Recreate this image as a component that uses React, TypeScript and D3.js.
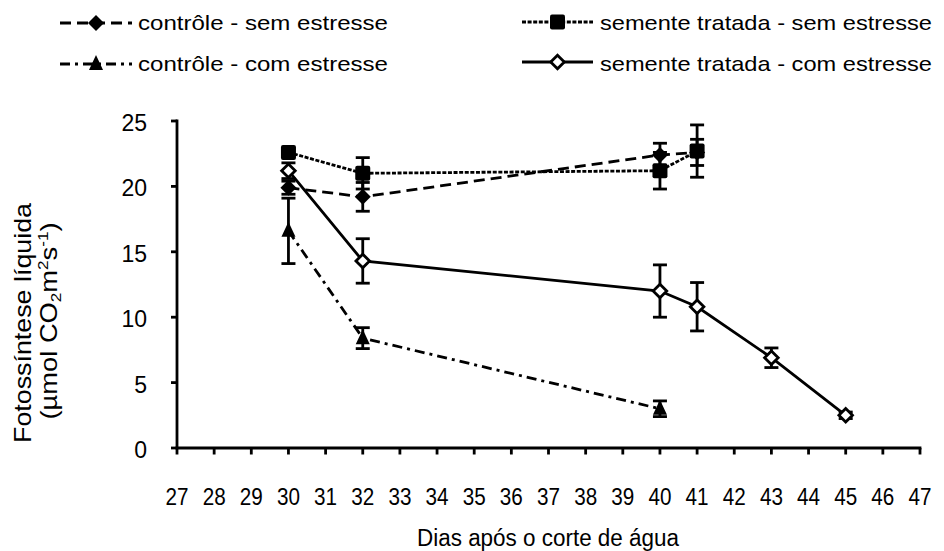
import React from "react";
import * as d3 from "d3";

// Days after water cut-off for each series
const daysSem = [30, 32, 40, 41];
const daysCtrlCom = [30, 32, 40];
const daysTratCom = [30, 32, 40, 41, 43, 45];

// Net photosynthesis (µmol CO2 m-2 s-1) and error bars
const ctrlSem = [19.9, 19.2, 22.4, 22.6];
const ctrlSemErr = [0.5, 1.1, 0.9, 1.0];
const tratSem = [22.6, 21.0, 21.2, 22.7];
const tratSemErr = [0.3, 1.2, 1.4, 2.0];
const ctrlCom = [16.6, 8.4, 3.0];
const ctrlComErr = [2.5, 0.8, 0.6];
const tratCom = [21.2, 14.3, 12.0, 10.8, 6.9, 2.5];
const tratComErr = [0.6, 1.7, 2.0, 1.85, 0.75, 0.25];

const xTicks = d3.range(27, 48);
const yTicks = [0, 5, 10, 15, 20, 25];

const seriesLabels = [
  "contrôle - sem estresse",
  "semente tratada - sem estresse",
  "contrôle - com estresse",
  "semente tratada - com estresse",
];

const FONT = "'Liberation Sans', Arial, sans-serif";

type Marker = "diamond" | "square" | "triangle" | "openDiamond";

interface Series {
  label: string;
  days: number[];
  values: number[];
  err: number[];
  dash: string | undefined;
  marker: Marker;
}

const series: Series[] = [
  { label: seriesLabels[0], days: daysSem, values: ctrlSem, err: ctrlSemErr, dash: "11 6", marker: "diamond" },
  { label: seriesLabels[1], days: daysSem, values: tratSem, err: tratSemErr, dash: "4 1.6", marker: "square" },
  { label: seriesLabels[2], days: daysCtrlCom, values: ctrlCom, err: ctrlComErr, dash: "10 5 3 5", marker: "triangle" },
  { label: seriesLabels[3], days: daysTratCom, values: tratCom, err: tratComErr, dash: undefined, marker: "openDiamond" },
];

const SW = 2.8;

function MarkerShape({ type, cx, cy }: { type: Marker; cx: number; cy: number }) {
  if (type === "diamond") {
    const r = 8;
    return <path d={`M${cx},${cy - r}L${cx + r},${cy}L${cx},${cy + r}L${cx - r},${cy}Z`} fill="#000" />;
  }
  if (type === "openDiamond") {
    const r = 6.8;
    return (
      <path
        d={`M${cx},${cy - r}L${cx + r},${cy}L${cx},${cy + r}L${cx - r},${cy}Z`}
        fill="#fff"
        stroke="#000"
        strokeWidth={2.8}
      />
    );
  }
  if (type === "square") {
    const s = 15;
    return <rect x={cx - s / 2} y={cy - s / 2} width={s} height={s} rx={2} fill="#000" />;
  }
  const h = 15;
  const w = 14;
  return <path d={`M${cx},${cy - h * 0.6}L${cx + w / 2},${cy + h * 0.4}L${cx - w / 2},${cy + h * 0.4}Z`} fill="#000" />;
}

export default function App() {
  const width = 944;
  const height = 551;
  const x = d3.scaleLinear().domain([27, 47]).range([177, 920]);
  const y = d3.scaleLinear().domain([0, 25]).range([448, 121]);
  const line = d3
    .line<[number, number]>()
    .x((d) => x(d[0]))
    .y((d) => y(d[1]));

  const legendPos = [
    { x0: 60, x1: 132, ly: 23, tx: 138, tb: 30, tl: 250 },
    { x0: 522, x1: 593, ly: 22, tx: 600, tb: 30, tl: 332 },
    { x0: 60, x1: 132, ly: 64, tx: 138, tb: 71, tl: 250 },
    { x0: 522, x1: 593, ly: 62, tx: 600, tb: 71, tl: 332 },
  ];

  return (
    <svg
      width={width}
      height={height}
      style={{ position: "absolute", left: 0, top: 0, background: "#fff" }}
      fontFamily={FONT}
    >
      <rect width={width} height={height} fill="#fff" />

      {/* legend */}
      {series.map((s, i) => {
        const p = legendPos[i];
        return (
          <g key={s.label}>
            <line x1={p.x0} x2={p.x1} y1={p.ly} y2={p.ly} stroke="#000" strokeWidth={3.2} strokeDasharray={s.dash} />
            <MarkerShape type={s.marker} cx={(p.x0 + p.x1) / 2} cy={p.ly} />
            <text x={p.tx} y={p.tb} fontSize={21} textLength={p.tl} lengthAdjust="spacingAndGlyphs" fill="#000">
              {s.label}
            </text>
          </g>
        );
      })}

      {/* y axis */}
      <line x1={x(27)} x2={x(27)} y1={y(25) - 1.4} y2={y(0)} stroke="#000" strokeWidth={SW} />
      {yTicks.map((t) => (
        <g key={t}>
          <line x1={x(27) - 6} x2={x(27)} y1={y(t)} y2={y(t)} stroke="#000" strokeWidth={SW} />
          <text x={147} y={y(t) + 10} fontSize={23} textAnchor="end" fill="#000">
            {t}
          </text>
        </g>
      ))}

      {/* x axis */}
      <line x1={x(27) - 1.4} x2={x(47) + 1.4} y1={y(0)} y2={y(0)} stroke="#000" strokeWidth={SW} />
      {xTicks.map((t) => (
        <g key={t}>
          <line x1={x(t)} x2={x(t)} y1={y(0)} y2={y(0) + 6.5} stroke="#000" strokeWidth={SW} />
          <text x={x(t)} y={505} fontSize={23} textAnchor="middle" fill="#000" textLength={23} lengthAdjust="spacingAndGlyphs">
            {t}
          </text>
        </g>
      ))}

      {/* axis titles */}
      <text x={548} y={546} fontSize={23} textAnchor="middle" textLength={262} lengthAdjust="spacingAndGlyphs" fill="#000">
        Dias após o corte de água
      </text>
      <g transform="translate(31,323) rotate(-90)">
        <text x={0} y={0} fontSize={24} textAnchor="middle" textLength={240} lengthAdjust="spacingAndGlyphs" fill="#000">
          Fotossíntese líquida
        </text>
      </g>
      <g transform="translate(57,321) rotate(-90)">
        <text
          x={0}
          y={0}
          fontSize={24}
          textAnchor="middle"
          textLength={197}
          lengthAdjust="spacingAndGlyphs"
          fill="#000"
        >
          <tspan>(µmol CO</tspan>
          <tspan fontSize={15} dy={4}>2</tspan>
          <tspan dy={-4}>m</tspan>
          <tspan fontSize={15} dy={-9}>2</tspan>
          <tspan dy={9}>s</tspan>
          <tspan fontSize={15} dy={-9}>-1</tspan>
          <tspan dy={9}>)</tspan>
        </text>
      </g>

      {/* series */}
      {series.map((s) => {
        const pts: [number, number][] = s.days.map((d, i) => [d, s.values[i]]);
        return (
          <g key={s.label}>
            <path d={line(pts) ?? ""} fill="none" stroke="#000" strokeWidth={SW} strokeDasharray={s.dash} />
            {pts.map(([d, v], i) => {
              const e = s.err[i];
              const cx = x(d);
              return (
                <g key={i}>
                  <line x1={cx} x2={cx} y1={y(v - e)} y2={y(v + e)} stroke="#000" strokeWidth={SW} />
                  <line x1={cx - 7} x2={cx + 7} y1={y(v - e)} y2={y(v - e)} stroke="#000" strokeWidth={SW} />
                  <line x1={cx - 7} x2={cx + 7} y1={y(v + e)} y2={y(v + e)} stroke="#000" strokeWidth={SW} />
                </g>
              );
            })}
            {pts.map(([d, v], i) => (
              <MarkerShape key={`m${i}`} type={s.marker} cx={x(d)} cy={y(v)} />
            ))}
          </g>
        );
      })}
    </svg>
  );
}
